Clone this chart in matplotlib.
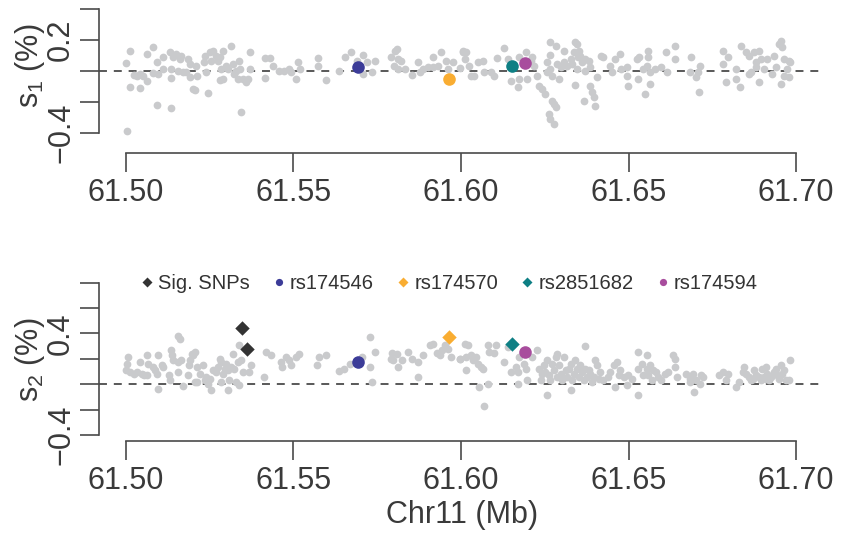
import matplotlib
matplotlib.use("Agg")
import matplotlib.pyplot as plt
from matplotlib.lines import Line2D

plt.rcParams['font.family'] = ['Liberation Sans', 'DejaVu Sans']
plt.rcParams['mathtext.default'] = 'regular'

# ---------------- data ----------------
# panel 1 (s1) background SNPs
pos_s1 = [61.5000, 61.5011, 61.5025, 61.5033, 61.5042, 61.5052, 61.5062, 61.5064, 61.5082, 61.5082,
          61.5092, 61.5097, 61.5110, 61.5112, 61.5131, 61.5134, 61.5134, 61.5141, 61.5151, 61.5156,
          61.5161, 61.5166, 61.5171, 61.5181, 61.5187, 61.5191, 61.5191, 61.5200, 61.5206, 61.5210,
          61.5212, 61.5232, 61.5236, 61.5240, 61.5250, 61.5255, 61.5260, 61.5270, 61.5275, 61.5280,
          61.5284, 61.5289, 61.5282, 61.5289, 61.5299, 61.5304, 61.5314, 61.5319, 61.5324, 61.5329,
          61.5334, 61.5337, 61.5341, 61.5349, 61.5359, 61.5364, 61.5371, 61.5371, 61.5013, 61.5041,
          61.5094, 61.5134, 61.5246, 61.5344, 61.5003, 61.5414, 61.5431, 61.5414, 61.5438, 61.5457,
          61.5472, 61.5487, 61.5492, 61.5509, 61.5515, 61.5521, 61.5572, 61.5574, 61.5596, 61.5637,
          61.5653, 61.5673, 61.5689, 61.5708, 61.5709, 61.5719, 61.5734, 61.5744, 61.5791, 61.5803,
          61.5808, 61.5813, 61.5821, 61.5801, 61.5813, 61.5833, 61.5855, 61.5872, 61.5877, 61.5887,
          61.5902, 61.5917, 61.5917, 61.5931, 61.5941, 61.5956, 61.5961, 61.5976, 61.5996, 61.6005,
          61.6006, 61.6016, 61.6011, 61.6025, 61.6030, 61.6040, 61.6050, 61.6065, 61.6070, 61.6090,
          61.6099, 61.6107, 61.6129, 61.6139, 61.6149, 61.6169, 61.6174, 61.6174, 61.6193, 61.6198,
          61.6208, 61.6213, 61.6218, 61.6228, 61.6233, 61.6243, 61.6252, 61.6257, 61.6257, 61.6265,
          61.6267, 61.6267, 61.6272, 61.6272, 61.6277, 61.6282, 61.6262, 61.6267, 61.6277, 61.6282,
          61.6287, 61.6292, 61.6297, 61.6307, 61.6307, 61.6317, 61.6327, 61.6332, 61.6337, 61.6341,
          61.6346, 61.6346, 61.6348, 61.6351, 61.6356, 61.6361, 61.6366, 61.6341, 61.6371, 61.6371,
          61.6381, 61.6386, 61.6391, 61.6396, 61.6401, 61.6406, 61.6386, 61.6418, 61.6425, 61.6445,
          61.6450, 61.6460, 61.6475, 61.6477, 61.6495, 61.6495, 61.6497, 61.6524, 61.6529, 61.6532,
          61.6544, 61.6549, 61.6554, 61.6559, 61.6559, 61.6564, 61.6564, 61.6578, 61.6598, 61.6613,
          61.6616, 61.6638, 61.6638, 61.6682, 61.6687, 61.6702, 61.6707, 61.6712, 61.6710, 61.6781,
          61.6781, 61.6791, 61.6796, 61.6820, 61.6820, 61.6832, 61.6835, 61.6850, 61.6860, 61.6865,
          61.6875, 61.6880, 61.6890, 61.6890, 61.6895, 61.6904, 61.6914, 61.6929, 61.6934, 61.6939,
          61.6949, 61.6954, 61.6957, 61.6954, 61.6964, 61.6964, 61.6973, 61.6978, 61.6983, 61.6978,
          61.6860, 61.6880]
s1 = [0.052, 0.129, -0.026, -0.030, -0.019, -0.030, -0.062, 0.110, 0.153, -0.015,
      0.056, -0.019, 0.088, 0.013, 0.120, 0.013, -0.047, 0.088, 0.110, 0.002,
      0.077, 0.099, -0.009, -0.009, 0.077, 0.045, -0.041, -0.116, -0.120, 0.034,
      -0.030, 0.056, 0.099, -0.009, 0.120, 0.067, 0.131, 0.099, 0.067, 0.088,
      0.013, 0.131, -0.058, -0.052, 0.034, 0.013, 0.163, 0.045, -0.019, 0.002,
      -0.052, 0.067, 0.013, -0.052, -0.073, -0.052, 0.125, 0.013, -0.105, -0.112,
      -0.219, -0.237, -0.142, -0.264, -0.387, 0.084, 0.084, -0.047, 0.034, 0.002,
      0.002, 0.013, -0.009, -0.052, 0.056, 0.013, 0.082, 0.034, -0.056, 0.002,
      0.088, 0.120, 0.067, 0.103, -0.019, 0.056, -0.009, 0.067, 0.088, 0.131,
      0.142, 0.077, 0.067, 0.034, 0.013, 0.013, -0.026, 0.060, -0.009, 0.013,
      0.024, 0.092, 0.024, 0.034, 0.120, 0.067, 0.013, 0.056, 0.017, 0.131,
      0.120, 0.120, 0.077, 0.034, -0.030, -0.030, 0.056, 0.067, -0.009, -0.009,
      -0.030, 0.082, 0.146, 0.077, -0.062, -0.105, -0.052, 0.088, 0.120, -0.052,
      0.067, 0.088, 0.034, -0.030, -0.095, -0.116, -0.148, 0.056, -0.009, 0.185,
      0.103, 0.013, -0.030, -0.191, -0.213, -0.234, -0.277, -0.310, -0.342, 0.163,
      0.045, -0.052, 0.024, 0.131, 0.056, 0.034, 0.077, 0.045, 0.120, 0.189,
      0.174, 0.013, 0.088, 0.131, 0.099, 0.056, -0.191, -0.090, 0.077, 0.002,
      0.067, -0.095, -0.138, -0.170, -0.224, -0.041, 0.024, 0.099, 0.088, 0.034,
      -0.009, 0.077, 0.110, 0.013, -0.030, 0.024, -0.095, 0.077, -0.052, 0.088,
      0.013, -0.148, 0.034, 0.131, 0.088, -0.009, -0.084, 0.013, 0.024, 0.120,
      -0.009, 0.163, 0.077, -0.009, 0.088, -0.041, -0.009, 0.034, -0.138, 0.131,
      0.045, -0.069, 0.088, 0.013, -0.052, -0.105, 0.163, 0.120, 0.099, -0.009,
      0.120, 0.056, 0.131, -0.073, 0.077, 0.013, 0.077, -0.019, 0.099, 0.024,
      0.174, 0.196, 0.153, -0.084, 0.077, -0.030, 0.013, 0.067, 0.056, -0.041,
      -0.019, 0.024]

# panel 2 (s2) background SNPs
pos_s2 = [61.5003, 61.5001, 61.5008, 61.5013, 61.5023, 61.5033, 61.5041, 61.5048, 61.5053, 61.5062,
          61.5067, 61.5062, 61.5082, 61.5087, 61.5092, 61.5095, 61.5097, 61.5107, 61.5112, 61.5130,
          61.5132, 61.5135, 61.5137, 61.5141, 61.5156, 61.5156, 61.5161, 61.5166, 61.5156, 61.5171,
          61.5186, 61.5189, 61.5191, 61.5196, 61.5201, 61.5206, 61.5206, 61.5211, 61.5213, 61.5220,
          61.5230, 61.5235, 61.5240, 61.5245, 61.5250, 61.5255, 61.5260, 61.5270, 61.5275, 61.5280,
          61.5285, 61.5285, 61.5290, 61.5295, 61.5300, 61.5304, 61.5304, 61.5309, 61.5314, 61.5319,
          61.5324, 61.5329, 61.5334, 61.5339, 61.5344, 61.5349, 61.5339, 61.5369, 61.5374, 61.5413,
          61.5418, 61.5433, 61.5462, 61.5467, 61.5477, 61.5487, 61.5492, 61.5507, 61.5517, 61.5571,
          61.5576, 61.5596, 61.5635, 61.5650, 61.5670, 61.5704, 61.5729, 61.5729, 61.5734, 61.5744,
          61.5791, 61.5793, 61.5798, 61.5808, 61.5813, 61.5823, 61.5843, 61.5853, 61.5872, 61.5872,
          61.5887, 61.5907, 61.5917, 61.5927, 61.5937, 61.5942, 61.5951, 61.5961, 61.5971, 61.5996,
          61.6016,
          61.5996, 61.6011, 61.6016, 61.6020, 61.6030, 61.6035, 61.6045, 61.6050, 61.6060, 61.6065,
          61.6055, 61.6070, 61.6080, 61.6082, 61.6085, 61.6099, 61.6104, 61.6129, 61.6139, 61.6149,
          61.6164, 61.6169, 61.6169, 61.6174, 61.6188, 61.6193, 61.6198, 61.6213, 61.6228, 61.6233,
          61.6238, 61.6243, 61.6248, 61.6252, 61.6257, 61.6257, 61.6262, 61.6267, 61.6272, 61.6277,
          61.6282, 61.6287, 61.6287, 61.6292, 61.6297, 61.6302, 61.6307, 61.6312, 61.6317, 61.6322,
          61.6327, 61.6327, 61.6332, 61.6337, 61.6341, 61.6346, 61.6351, 61.6356, 61.6361, 61.6366,
          61.6371, 61.6371, 61.6376, 61.6381, 61.6386, 61.6391, 61.6396, 61.6401, 61.6406, 61.6411,
          61.6416, 61.6425, 61.6440, 61.6445, 61.6455, 61.6460, 61.6465, 61.6470, 61.6475, 61.6485,
          61.6495, 61.6499, 61.6509, 61.6529, 61.6529, 61.6529, 61.6539, 61.6544, 61.6554, 61.6554,
          61.6559, 61.6564, 61.6569, 61.6574, 61.6583, 61.6588, 61.6598, 61.6608, 61.6618, 61.6633,
          61.6638, 61.6638, 61.6643, 61.6672, 61.6682, 61.6692, 61.6694, 61.6702, 61.6712, 61.6717,
          61.6722, 61.6771, 61.6781, 61.6791, 61.6796, 61.6820, 61.6830, 61.6840, 61.6845, 61.6850,
          61.6860, 61.6865, 61.6870, 61.6875, 61.6880, 61.6890, 61.6895, 61.6899, 61.6904, 61.6909,
          61.6914, 61.6919, 61.6924, 61.6934, 61.6939, 61.6944, 61.6949, 61.6954, 61.6959, 61.6964,
          61.6969, 61.6979, 61.6983, 61.6909, 61.6682]
s2 = [0.163, 0.110, 0.215, 0.097, 0.084, 0.097, 0.176, 0.084, 0.071, 0.228,
      0.163, 0.071, 0.137, 0.110, 0.084, 0.228, -0.034, 0.150, 0.137, 0.071,
      0.032, 0.268, 0.228, 0.189, 0.378, 0.176, 0.360, 0.189, 0.097, -0.016,
      0.071, 0.150, 0.189, 0.242, 0.228, 0.255, 0.018, 0.137, 0.021, 0.084,
      0.150, 0.032, 0.058, 0.005, 0.045, -0.047, 0.110, 0.097, 0.137, 0.202,
      0.018, 0.176, 0.084, 0.123, 0.163, -0.047, 0.110, 0.032, 0.137, 0.242,
      0.123, 0.018, 0.176, 0.307, 0.189, 0.097, -0.008, 0.097, 0.150, 0.058,
      0.255, 0.228, 0.176, 0.137, 0.215, 0.189, 0.150, 0.215, 0.242, 0.150,
      0.215, 0.234, 0.105, 0.123, 0.163, 0.215, 0.373, 0.137, 0.018, 0.255,
      0.202, 0.247, 0.189, 0.242, 0.137, 0.189, 0.255, 0.202, 0.176, 0.058,
      0.228, 0.307, 0.320, 0.247, 0.228, 0.268, 0.307, 0.281, 0.215, 0.202,
      0.215,
      0.202, 0.320, 0.110, 0.307, 0.228, 0.189, 0.215, 0.163, 0.137, 0.123,
      -0.021, -0.173, 0.005, 0.312, 0.255, 0.247, 0.312, 0.176, 0.294, 0.097,
      0.137, 0.097, 0.005, 0.215, 0.163, 0.123, 0.032, 0.215, 0.268, 0.123,
      0.032, 0.084, 0.150, 0.097, 0.189, -0.087, 0.071, 0.032, 0.163, 0.110,
      0.215, 0.242, 0.058, 0.150, 0.084, 0.032, 0.215, 0.110, 0.058, 0.123,
      0.163, -0.047, 0.032, 0.084, 0.189, 0.123, 0.058, 0.150, 0.097, 0.032,
      0.299, 0.123, 0.058, 0.110, 0.084, 0.018, 0.058, 0.189, 0.150, 0.045,
      0.097, 0.032, 0.058, 0.097, 0.150, -0.021, 0.176, 0.071, 0.110, 0.058,
      -0.008, 0.071, 0.045, 0.255, -0.087, 0.123, 0.163, 0.071, 0.228, 0.123,
      0.071, 0.150, 0.032, 0.110, 0.097, 0.058, 0.032, 0.084, 0.097, 0.228,
      0.202, 0.137, 0.058, 0.084, 0.018, 0.084, -0.060, 0.032, 0.005, 0.071,
      0.058, 0.071, 0.097, 0.032, 0.084, -0.021, 0.018, 0.097, 0.137, 0.084,
      0.058, 0.032, 0.045, 0.110, 0.071, 0.058, 0.032, 0.123, 0.058, 0.137,
      0.084, 0.032, 0.058, 0.097, 0.123, 0.071, 0.045, 0.150, 0.084, 0.110,
      0.032, 0.032, 0.189, 0.045, 0.045]

# significant SNPs (s2 panel)
sig_pos = [61.5346, 61.5361]
sig_s2 = [0.444, 0.277]

# highlighted SNPs
snp_names = ['rs174546', 'rs174570', 'rs2851682', 'rs174594']
snp_pos = [61.5692, 61.5965, 61.6152, 61.6190]
snp_s1 = [0.028, -0.052, 0.030, 0.050]
snp_s2 = [0.173, 0.373, 0.314, 0.255]
snp_sig = [False, True, True, False]
snp_colors = ['#3C3C98', '#F9AD32', '#0E7F84', '#A84D9D']

xticks = [61.50, 61.55, 61.60, 61.65, 61.70]
xticklabels = ['61.50', '61.55', '61.60', '61.65', '61.70']
yticks1 = [-0.4, -0.2, 0.0, 0.2, 0.4]
yticklabels1 = ['\u22120.4', '', '', '0.2', '']
yticks2 = [-0.4, -0.2, 0.0, 0.2, 0.4, 0.6, 0.8]
yticklabels2 = ['\u22120.4', '', '', '', '0.4', '', '']

# ---------------- style ----------------
W, H = 841, 536
GRAY = '#C9CACC'
AXC = '#4A4A4A'
TXT = '#3A3A3A'
FS = 22

fig = plt.figure(figsize=(W / 100, H / 100), dpi=100)
ax1 = fig.add_axes([99 / W, 1 - 153.2 / H, 724 / W, 151.95 / H])
ax2 = fig.add_axes([99 / W, 1 - 441.45 / H, 724 / W, 165.1 / H])


def style(ax, yticks, ylabels, ylim):
    ax.set_xlim(61.492, 61.708)
    ax.set_ylim(*ylim)
    for s in ('top', 'right'):
        ax.spines[s].set_visible(False)
    for s in ('left', 'bottom'):
        ax.spines[s].set_color(AXC)
        ax.spines[s].set_linewidth(1.2)
    ax.spines['left'].set_bounds(yticks[0], yticks[-1])
    ax.spines['bottom'].set_bounds(xticks[0], xticks[-1])
    ax.set_xticks(xticks)
    ax.set_xticklabels(xticklabels)
    ax.set_yticks(yticks)
    ax.set_yticklabels(ylabels)
    ax.tick_params(axis='both', direction='out', length=14, width=1.2, color=AXC,
                   labelcolor=TXT, labelsize=FS)
    ax.tick_params(axis='x', pad=3.5)
    ax.tick_params(axis='y', pad=2.5, labelrotation=90)
    for lab in ax.get_yticklabels():
        lab.set_va('center')
        lab.set_ha('right')
    ax.axhline(0, color='#2B2B2B', lw=1.1, ls=(0, (5.2, 4.5)), zorder=1)
    ax.patch.set_visible(False)


style(ax1, yticks1, yticklabels1, (-0.53, 0.45))
style(ax2, yticks2, yticklabels2, (-0.45, 0.85))

# panel 1
ax1.scatter(pos_s1, s1, s=31, color=GRAY, linewidths=0, zorder=2)
for p, v, c in zip(snp_pos, snp_s1, snp_colors):
    ax1.scatter([p], [v], s=82, color=c, linewidths=0, zorder=4)

# panel 2
ax2.scatter(pos_s2, s2, s=31, color=GRAY, linewidths=0, zorder=2)
ax2.scatter(sig_pos, sig_s2, s=54, marker='D', color='#333333', linewidths=0, zorder=4)
for p, v, c, sg in zip(snp_pos, snp_s2, snp_colors, snp_sig):
    if sg:
        ax2.scatter([p], [v], s=54, marker='D', color=c, linewidths=0, zorder=4)
    else:
        ax2.scatter([p], [v], s=82, marker='o', color=c, linewidths=0, zorder=4)

# legend
handles = [Line2D([], [], ls='none', marker='D', ms=4.8, color='#333333', mec='none')]
labels = ['Sig. SNPs']
for n, c, sg in zip(snp_names, snp_colors, snp_sig):
    handles.append(Line2D([], [], ls='none', marker='D' if sg else 'o',
                          ms=4.8 if sg else 5.2, color=c, mec='none'))
    labels.append(n)
leg = ax2.legend(handles, labels, ncol=5, loc='center', bbox_to_anchor=(0.483, 0.957),
                 frameon=False, fontsize=14.5, handlelength=0.7, handletextpad=0.2,
                 columnspacing=1.1, borderaxespad=0, borderpad=0)
for t in leg.get_texts():
    t.set_color('#333333')

# axis labels
fig.text(30 / W, 1 - 66 / H, r'$s_1$ (%)', rotation=90, ha='center', va='center',
         fontsize=FS, color=TXT)
fig.text(30 / W, 1 - 360 / H, r'$s_2$ (%)', rotation=90, ha='center', va='center',
         fontsize=FS, color=TXT)
fig.text(462 / W, 1 - 515 / H, 'Chr11 (Mb)', ha='center', va='center',
         fontsize=FS, color=TXT)

fig.savefig('out.png', dpi=100)
